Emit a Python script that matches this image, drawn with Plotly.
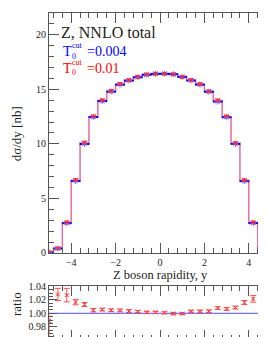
import plotly.graph_objects as go

# ---------------- data ----------------
y_centers = [-5.0, -4.6, -4.2, -3.8, -3.4, -3.0, -2.6, -2.2, -1.8, -1.4, -1.0, -0.6, -0.2,
             0.2, 0.6, 1.0, 1.4, 1.8, 2.2, 2.6, 3.0, 3.4, 3.8, 4.2, 4.6, 5.0]
xsec_tcut_0004 = [0.05, 0.41, 2.73, 6.59, 9.99, 12.46, 13.92, 14.79, 15.43, 15.80, 16.10, 16.34, 16.42,
                  16.43, 16.39, 16.15, 15.81, 15.43, 14.78, 13.88, 12.44, 10.00, 6.58, 2.74, 0.40, 0.05]
xsec_tcut_001 = [0.05, 0.42, 2.80, 6.70, 10.12, 12.52, 14.00, 14.86, 15.50, 15.85, 16.15, 16.36, 16.44,
                 16.44, 16.38, 16.14, 15.86, 15.48, 14.82, 13.99, 12.52, 10.08, 6.68, 2.80, 0.42, 0.05]
ratio = [0.9886, 1.028, 1.027, 1.0166, 1.013, 1.0045, 1.0055, 1.0045, 1.0042, 1.0033, 1.0025, 1.0015, 1.0014,
         1.0008, 0.9995, 0.9995, 1.003, 1.003, 1.003, 1.0078, 1.0065, 1.0085, 1.016, 1.0215, 1.031, 1.06]
ratio_err_up = [0.007, 0.009, 0.010, 0.004, 0.003, 0.0025, 0.002, 0.002, 0.002, 0.002, 0.0015, 0.0015, 0.0015,
                0.0015, 0.0015, 0.0015, 0.0015, 0.0015, 0.002, 0.002, 0.002, 0.002, 0.003, 0.005, 0.007, 0.01]
ratio_err_dn = [0.04, 0.009, 0.010, 0.004, 0.003, 0.0025, 0.002, 0.002, 0.002, 0.002, 0.0015, 0.0015, 0.0015,
                0.0015, 0.0015, 0.0015, 0.0015, 0.0015, 0.002, 0.002, 0.002, 0.002, 0.003, 0.005, 0.007, 0.032]
x_ticks = [-4, -2, 0, 2, 4]
y_ticks = [0, 5, 10, 15, 20]
ratio_ticks = [0.96, 0.98, 1.00, 1.02, 1.04]

FONT = "Liberation Serif"
W, H = 266, 337
L, R = 41, 3
AX = "#555555"

def px(p):
    return (p - L) / (W - L - R)

def py(p):
    return (H - p) / H

fig = go.Figure()

# main panel: step lines
fig.add_trace(go.Scatter(x=y_centers, y=xsec_tcut_0004, mode="lines", line_shape="hvh",
                         line=dict(color="rgba(110,90,255,0.6)", width=1), showlegend=False,
                         xaxis="x", yaxis="y"))
fig.add_trace(go.Scatter(x=y_centers, y=xsec_tcut_001, mode="lines", line_shape="hvh",
                         line=dict(color="rgba(255,80,110,0.65)", width=1.5), showlegend=False,
                         xaxis="x", yaxis="y"))
# blue markers
fig.add_trace(go.Scatter(x=y_centers, y=xsec_tcut_0004, mode="markers",
                         marker=dict(symbol="line-ew", size=7, line=dict(color="blue", width=2)),
                         showlegend=False, xaxis="x", yaxis="y"))
fig.add_trace(go.Scatter(x=y_centers, y=xsec_tcut_0004, mode="markers",
                         marker=dict(symbol="asterisk", size=5, line=dict(color="#7070ff", width=1)),
                         showlegend=False, xaxis="x", yaxis="y"))
# red markers
fig.add_trace(go.Scatter(x=y_centers, y=xsec_tcut_001, mode="markers",
                         marker=dict(symbol="x-thin", size=4, line=dict(color="#ff2020", width=1)),
                         error_y=dict(type="constant", value=0.12, color="#ff4040", thickness=1, width=2.5),
                         showlegend=False, xaxis="x", yaxis="y"))

# ratio panel
fig.add_trace(go.Scatter(x=[-5, 5], y=[1.0, 1.0], mode="lines",
                         line=dict(color="#5050ff", width=1), showlegend=False,
                         xaxis="x2", yaxis="y2"))
fig.add_trace(go.Scatter(x=y_centers, y=ratio, mode="markers",
                         marker=dict(symbol="x-thin", size=4, line=dict(color="#ff3030", width=1)),
                         error_y=dict(type="data", symmetric=False, array=ratio_err_up,
                                      arrayminus=ratio_err_dn, color="#ff5050", thickness=1, width=3),
                         showlegend=False, xaxis="x2", yaxis="y2"))

axis_common = dict(showline=True, linecolor=AX, linewidth=1, mirror="ticks", ticks="inside",
                   tickcolor=AX, showgrid=False, zeroline=False,
                   tickfont=dict(family=FONT, size=10, color="#222"))

fig.update_layout(
    width=W, height=H,
    margin=dict(l=L, r=R, t=0, b=0),
    paper_bgcolor="white", plot_bgcolor="white",
    xaxis=dict(range=[-5, 5], domain=[0, 1], anchor="y", tickvals=x_ticks,
               ticktext=["\u22124", "\u22122", "0", "2", "4"], ticklen=10,
               minor=dict(dtick=0.4, tick0=0, ticklen=5, ticks="inside", tickcolor=AX),
               **axis_common),
    yaxis=dict(range=[0, 22], domain=[py(247.3), 1], anchor="x", tickvals=y_ticks, ticklen=10,
               minor=dict(dtick=1, ticklen=5, ticks="inside", tickcolor=AX),
               **axis_common),
    xaxis2=dict(range=[-5, 5], domain=[0, 1], anchor="y2", matches="x", tickvals=x_ticks,
                showticklabels=False, ticklen=10,
                minor=dict(dtick=0.4, tick0=0, ticklen=5, ticks="inside", tickcolor=AX),
                **axis_common),
    yaxis2=dict(range=[0.9604, 1.041], domain=[0, py(281.0)], anchor="x2", tickvals=ratio_ticks,
                ticktext=["0.96", "0.98", "1.00", "1.02", "1.04"], ticklen=8,
                minor=dict(dtick=0.005, ticklen=4, ticks="inside", tickcolor=AX),
                **axis_common),
)

ann = []
def text(x, y, s, size, color="#222", xanchor="left", angle=0):
    ann.append(dict(x=px(x), y=py(y), xref="paper", yref="paper", text=s, showarrow=False,
                    xanchor=xanchor, yanchor="middle", textangle=angle, borderpad=0,
                    font=dict(family=FONT, size=size, color=color)))

text(52, 20, "Z, NNLO total", 16)
for yy, val, col in [(40, "=0.004", "blue"), (57, "=0.01", "red")]:
    text(53.5, yy, "T", 14, col)
    text(63, yy + 4.5, "0", 8, col)
    text(63, yy - 6, "cut", 8, col)
    text(78, yy, val, 14, col)

text(152.5, 270.5, "Z boson rapidity, y", 12.5, xanchor="center")
text(8, 125, "d\u03c3/dy [nb]", 13, xanchor="center", angle=-90)
text(8, 300, "ratio", 13, xanchor="center", angle=-90)

fig.update_layout(annotations=ann)
fig.write_html("out.html")
